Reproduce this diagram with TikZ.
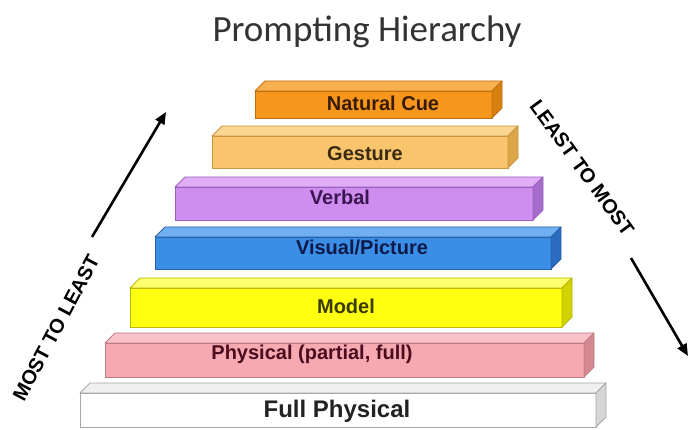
\documentclass[tikz,border=0pt]{standalone}
\usepackage{fontspec}
\setmainfont{Liberation Sans}
\newfontfamily\titlefont{Carlito}
\usetikzlibrary{arrows.meta}
\definecolor{ncF}{HTML}{F7961C}\definecolor{ncT}{HTML}{F9B04E}\definecolor{ncS}{HTML}{D8800E}\definecolor{ncD}{HTML}{C07010}\definecolor{ncX}{HTML}{3A1C05}
\definecolor{gsF}{HTML}{F9C56C}\definecolor{gsT}{HTML}{FBD693}\definecolor{gsS}{HTML}{DDA648}\definecolor{gsD}{HTML}{C8973F}\definecolor{gsX}{HTML}{3A2A10}
\definecolor{vbF}{HTML}{D08DF0}\definecolor{vbT}{HTML}{E0AEF6}\definecolor{vbS}{HTML}{A56CCB}\definecolor{vbD}{HTML}{9A62BF}\definecolor{vbX}{HTML}{3A1650}
\definecolor{vpF}{HTML}{3B8EE6}\definecolor{vpT}{HTML}{70B0F0}\definecolor{vpS}{HTML}{2A6CC0}\definecolor{vpD}{HTML}{2A62A8}\definecolor{vpX}{HTML}{0C1A4C}
\definecolor{mdF}{HTML}{FFFF10}\definecolor{mdT}{HTML}{FFFF70}\definecolor{mdS}{HTML}{D2D200}\definecolor{mdD}{HTML}{B8B800}\definecolor{mdX}{HTML}{3A3A00}
\definecolor{phF}{HTML}{F7A9B1}\definecolor{phT}{HTML}{F9C2C8}\definecolor{phS}{HTML}{D48890}\definecolor{phD}{HTML}{C07C84}\definecolor{phX}{HTML}{4A0C1E}
\definecolor{fpF}{HTML}{FFFFFF}\definecolor{fpT}{HTML}{F0F0F0}\definecolor{fpS}{HTML}{D6D6D6}\definecolor{fpD}{HTML}{A8A8A8}\definecolor{fpX}{HTML}{222222}
\tikzset{
  barface/.style={inner sep=0pt, outer sep=0pt, anchor=north west, line width=0.8pt},
  barlabel/.style={font=\bfseries\fontsize{20}{20}\selectfont, anchor=base, inner sep=0pt},
  sidelabel/.style={font=\bfseries\fontsize{20}{20}\selectfont, inner sep=0pt},
  bigarrow/.style={line width=2.6pt, -{Triangle[length=12pt,width=10pt]}}
}
% #1 name, #2 left, #3 top, #4 right, #5 bottom, #6 colour prefix
\newcommand\mybar[6]{%
  \node[barface, draw=#6D, fill=#6F, minimum width={(#4-#2)*1pt}, minimum height={(#5-#3)*1pt}] (#1) at (#2,#3) {};
  \filldraw[fill=#6T, draw=#6D, line width=0.8pt, line join=round] (#1.north west) -- ++(10,-10) -- ([shift={(10,-10)}]#1.north east) -- (#1.north east) -- cycle;
  \filldraw[fill=#6S, draw=#6D, line width=0.8pt, line join=round] (#1.north east) -- ++(10,-10) -- ([shift={(10,-10)}]#1.south east) -- (#1.south east) -- cycle;
}
\begin{document}
\begin{tikzpicture}[x=1pt,y=-1pt]
\useasboundingbox (0,0) rectangle (689,430);
\fill[white] (0,0) rectangle (689,430);
\node[font=\titlefont\fontsize{37}{37}\selectfont, text=black!80, anchor=base] (title) at (367,42) {Prompting Hierarchy};

\mybar{fp}{80}{393}{596}{427}{fp}
\mybar{ph}{105}{343}{584}{377}{ph}
\mybar{md}{130}{288}{562}{327}{md}
\mybar{vp}{155}{237}{551}{269}{vp}
\mybar{vb}{175}{187}{533}{220}{vb}
\mybar{gs}{212}{136}{508}{168}{gs}
\mybar{nc}{255}{91}{492}{118}{nc}

\node[barlabel, text=ncX] (lnc) at (383,111) {Natural Cue};
\node[barlabel, text=gsX] (lgs) at (365,161) {Gesture};
\node[barlabel, text=vbX] (lvb) at (340,205) {Verbal};
\node[barlabel, text=vpX] (lvp) at (362,255) {Visual/Picture};
\node[barlabel, text=mdX] (lmd) at (346,314) {Model};
\node[barlabel, text=phX] (lph) at (312,360) {Physical (partial, full)};
\node[barlabel, text=fpX, font=\bfseries\fontsize{24}{24}\selectfont] (lfp) at (337,418) {Full Physical};

\coordinate (la0) at (92,237);
\coordinate (la1) at (166,112);
\draw[bigarrow] (la0) -- (la1);
\coordinate (ra0) at (631,258);
\coordinate (ra1) at (688,356);
\draw[bigarrow] (ra0) -- (ra1);

\node[sidelabel, rotate=62] (mtl) at (56,328) {MOST TO LEAST};
\node[sidelabel, rotate=-54] (ltm) at (582,168) {LEAST TO MOST};
\end{tikzpicture}
\end{document}
